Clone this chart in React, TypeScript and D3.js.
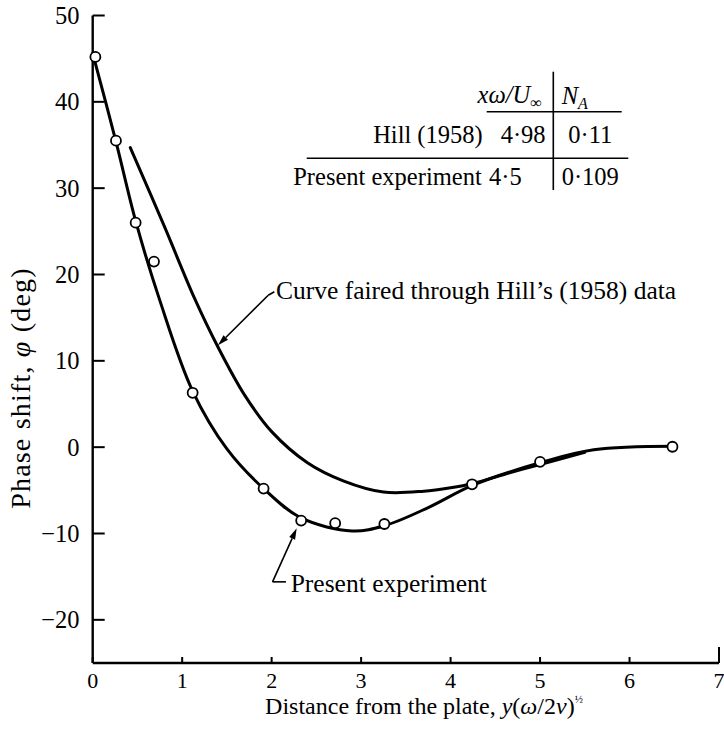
import React from "react";
import * as d3 from "d3";

// Axis ticks
const X_TICKS = [0, 1, 2, 3, 4, 5, 6, 7];
const Y_TICKS = [50, 40, 30, 20, 10, 0, -10, -20];

// Measured phase shift, present experiment
const POINT_X = [0.03, 0.26, 0.48, 0.685, 1.117, 1.91, 2.33, 2.71, 3.26, 4.24, 5.0, 6.48];
const POINT_Y = [45.2, 35.5, 26.0, 21.5, 6.3, -4.8, -8.5, -8.8, -8.9, -4.3, -1.7, 0.05];

// Faired curve through the present data
const PRESENT_FAIR_X = [0.0, 0.26, 0.48, 0.75, 1.117, 1.5, 1.91, 2.33, 2.9, 3.26, 3.75, 4.25, 5.0, 5.6, 6.5];
const PRESENT_FAIR_Y = [45.6, 35.4, 26.2, 17.0, 6.5, -0.2, -4.8, -8.2, -9.7, -9.1, -7.0, -4.4, -1.8, -0.3, 0.1];

// Curve faired through Hill's (1958) data
const HILL_FAIR_X = [0.42, 0.8, 1.14, 1.4, 1.7, 2.0, 2.4, 2.8, 3.25, 3.7, 4.0, 4.25, 4.65, 5.0, 5.5];
const HILL_FAIR_Y = [34.7, 25.6, 17.2, 11.6, 6.0, 1.8, -1.8, -3.9, -5.2, -5.1, -4.7, -4.2, -3.0, -2.0, -0.6];

// Table of parameters
const TABLE_LABELS = ["Hill (1958)", "Present experiment"];
const TABLE_XW = ["4·98", "4·5"];
const TABLE_NA = ["0·11", "0·109"];

const W = 724;
const H = 729;
const FONT = "'Liberation Serif', 'Times New Roman', serif";
const FS = 24.5;

export default function App() {
  const x = d3.scaleLinear().domain([0, 7]).range([92.7, 719]);
  const y = d3.scaleLinear().domain([-25, 50]).range([663, 15.5]);

  const line = d3
    .line<[number, number]>()
    .x((d) => x(d[0]))
    .y((d) => y(d[1]))
    .curve(d3.curveCatmullRom.alpha(0.5));

  const present = PRESENT_FAIR_X.map((v, i) => [v, PRESENT_FAIR_Y[i]] as [number, number]);
  const hill = HILL_FAIR_X.map((v, i) => [v, HILL_FAIR_Y[i]] as [number, number]);

  // Arrow with a filled head, tail ending in a short hook
  const arrow = (tip: [number, number], tail: [number, number], hook: [number, number], key: string) => {
    const tx = x(tip[0]);
    const ty = y(tip[1]);
    const sx = x(tail[0]);
    const sy = y(tail[1]);
    const ang = Math.atan2(ty - sy, tx - sx);
    const len = 11;
    const half = 3.2;
    const bx = tx - len * Math.cos(ang);
    const by = ty - len * Math.sin(ang);
    const px = -Math.sin(ang) * half;
    const py = Math.cos(ang) * half;
    return (
      <g key={key}>
        <line x1={sx} y1={sy} x2={bx} y2={by} stroke="#000" strokeWidth={1.6} />
        <polygon points={`${tx},${ty} ${bx + px},${by + py} ${bx - px},${by - py}`} fill="#000" />
        <path d={`M${sx},${sy} L${x(hook[0])},${y(hook[1])}`} stroke="#000" strokeWidth={1.6} fill="none" />
      </g>
    );
  };

  return (
    <svg width={W} height={H} style={{ display: "block", position: "absolute", left: 0, top: 0, background: "#fff" }} fontFamily={FONT}>
      <rect x={0} y={0} width={W} height={H} fill="#fff" />

      {/* axes */}
      <line x1={x(0)} y1={y(50)} x2={x(0)} y2={y(-25)} stroke="#000" strokeWidth={2.4} />
      <line x1={x(0)} y1={y(-25)} x2={x(7)} y2={y(-25)} stroke="#000" strokeWidth={2.4} />
      {Y_TICKS.map((t) => (
        <g key={`yt${t}`}>
          <line x1={x(0)} y1={y(t)} x2={x(0) + 12} y2={y(t)} stroke="#000" strokeWidth={2} />
          <text x={79.5} y={y(t)} dy="0.35em" textAnchor="end" fontSize={FS}>
            {t < 0 ? `−${Math.abs(t)}` : t}
          </text>
        </g>
      ))}
      {X_TICKS.map((t) => (
        <g key={`xt${t}`}>
          <line x1={x(t)} y1={y(-25)} x2={x(t)} y2={y(-25) - (t === 7 ? 16 : 6)} stroke="#000" strokeWidth={2} />
          <text x={x(t)} y={688} textAnchor="middle" fontSize={22}>
            {t}
          </text>
        </g>
      ))}

      {/* axis titles */}
      <text x={424} y={714} textAnchor="middle" fontSize={24}>
        Distance from the plate,{" "}
        <tspan fontStyle="italic">y</tspan>(<tspan fontStyle="italic">ω</tspan>/2<tspan fontStyle="italic">ν</tspan>)
        <tspan fontSize={11} dy={-11}>½</tspan>
      </text>
      <text transform="translate(30,388) rotate(-90)" textAnchor="middle" fontSize={28} letterSpacing={1.2}>
        Phase shift, <tspan fontStyle="italic">φ</tspan> (deg)
      </text>

      {/* faired curves */}
      <path d={line(hill) ?? ""} fill="none" stroke="#000" strokeWidth={3} strokeLinecap="round" />
      <path d={line(present) ?? ""} fill="none" stroke="#000" strokeWidth={3} strokeLinecap="round" />

      {/* measured points */}
      {POINT_X.map((v, i) => (
        <circle key={`p${i}`} cx={x(v)} cy={y(POINT_Y[i])} r={5} fill="#fff" stroke="#000" strokeWidth={1.8} />
      ))}

      {/* annotations */}
      {arrow([1.4, 11.8], [1.962, 17.6], [2.03, 18.0], "hill")}
      <text x={276} y={299} fontSize={FS + 1}>
        Curve faired through Hill’s (1958) data
      </text>
      {arrow([2.28, -9.4], [2.01, -15.6], [2.16, -15.6], "present")}
      <text x={290.7} y={592} fontSize={FS + 1}>
        Present experiment
      </text>

      {/* table */}
      <line x1={553.3} y1={71.7} x2={553.3} y2={190} stroke="#000" strokeWidth={1.6} />
      <line x1={486.7} y1={111.7} x2={621.7} y2={111.7} stroke="#000" strokeWidth={1.6} />
      <line x1={306.7} y1={158.3} x2={628.3} y2={158.3} stroke="#000" strokeWidth={1.6} />
      <text x={541.7} y={103} textAnchor="end" fontSize={FS} fontStyle="italic">
        xω/U<tspan fontSize={16} dy={5}>∞</tspan>
      </text>
      <text x={561.7} y={104} fontSize={FS} fontStyle="italic">
        N<tspan fontSize={16} dy={5}>A</tspan>
      </text>
      <text x={482.7} y={143} textAnchor="end" fontSize={FS}>{TABLE_LABELS[0]}</text>
      <text x={500.7} y={143} fontSize={FS}>{TABLE_XW[0]}</text>
      <text x={568.3} y={143} fontSize={FS}>{TABLE_NA[0]}</text>
      <text x={481.7} y={185} textAnchor="end" fontSize={FS}>{TABLE_LABELS[1]}</text>
      <text x={489} y={185} fontSize={FS}>{TABLE_XW[1]}</text>
      <text x={561.7} y={185} fontSize={FS}>{TABLE_NA[1]}</text>
    </svg>
  );
}
